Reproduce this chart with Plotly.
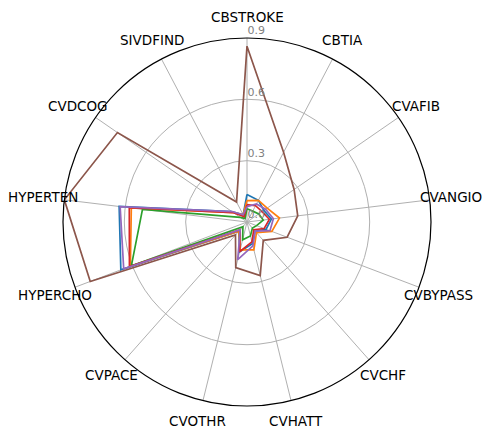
import math
import plotly.graph_objects as go

categories = ["CBSTROKE", "CBTIA", "CVAFIB", "CVANGIO", "CVBYPASS", "CVCHF", "CVHATT",
              "CVOTHR", "CVPACE", "HYPERCHO", "HYPERTEN", "CVDCOG", "SIVDFIND"]

series_blue = [0.135, 0.12, 0.10, 0.12, 0.10, 0.06, 0.11, 0.15, 0.06, 0.66, 0.63, 0.09, 0.04]
series_orange = [0.105, 0.12, 0.12, 0.16, 0.13, 0.07, 0.14, 0.14, 0.06, 0.61, 0.57, 0.08, 0.04]
series_green = [0.065, 0.06, 0.07, 0.08, 0.05, 0.04, 0.07, 0.09, 0.03, 0.605, 0.515, 0.04, 0.02]
series_red = [0.085, 0.09, 0.09, 0.11, 0.09, 0.05, 0.10, 0.15, 0.05, 0.615, 0.58, 0.08, 0.03]
series_purple = [0.075, 0.10, 0.11, 0.13, 0.12, 0.06, 0.12, 0.19, 0.05, 0.645, 0.625, 0.09, 0.04]
series_brown = [0.86, 0.385, 0.28, 0.25, 0.21, 0.12, 0.27, 0.23, 0.085, 0.82, 0.90, 0.77, 0.11]

radial_ticks = [0.0, 0.3, 0.6, 0.9]
radial_ticktext = ["0.0", "0.3", "0.6", "0.9"]

colors = ["#1f77b4", "#ff7f0e", "#2ca02c", "#d62728", "#9467bd", "#8c564b"]
all_series = [series_blue, series_orange, series_green, series_red, series_purple, series_brown]

fig = go.Figure()
for vals, col in zip(all_series, colors):
    fig.add_trace(go.Scatterpolar(
        r=vals + vals[:1],
        theta=categories + categories[:1],
        mode="lines",
        line=dict(color=col, width=1.7),
        showlegend=False,
    ))

W, H = 493, 436
cx_px, cy_px, rad_px = 239, 214, 184
label_r_px = 205

# category labels placed around the circle (matplotlib-like centred labels)
n = len(categories)
for i, cat in enumerate(categories):
    ang = 2 * math.pi * i / n
    lx = cx_px + label_r_px * math.sin(ang)
    ly = cy_px - label_r_px * math.cos(ang)
    fig.add_annotation(
        x=lx / W, y=(H - ly) / H, xref="paper", yref="paper",
        text=cat, showarrow=False, xanchor="center", yanchor="middle",
        font=dict(size=13.5, color="black", family="DejaVu Sans"),
    )

fig.update_layout(
    width=W, height=H,
    margin=dict(l=0, r=0, t=0, b=0),
    paper_bgcolor="white",
    font=dict(family="DejaVu Sans", color="black"),
    polar=dict(
        domain=dict(x=[(cx_px - rad_px) / W, (cx_px + rad_px) / W],
                    y=[(H - cy_px - rad_px) / H, (H - cy_px + rad_px) / H]),
        bgcolor="white",
        angularaxis=dict(
            direction="clockwise", rotation=90,
            showline=True, linecolor="black", linewidth=1.2,
            gridcolor="#b0b0b0", gridwidth=1,
            ticks="", showticklabels=False,
        ),
        radialaxis=dict(
            range=[0, 0.9], angle=90, tickangle=90,
            tickvals=radial_ticks, ticktext=[t + "<br> " for t in radial_ticktext],
            showline=False, ticks="",
            gridcolor="#b0b0b0", gridwidth=1,
            tickfont=dict(size=11, color="#808080", family="DejaVu Sans"),
        ),
    ),
)

fig.write_html("out.html")
